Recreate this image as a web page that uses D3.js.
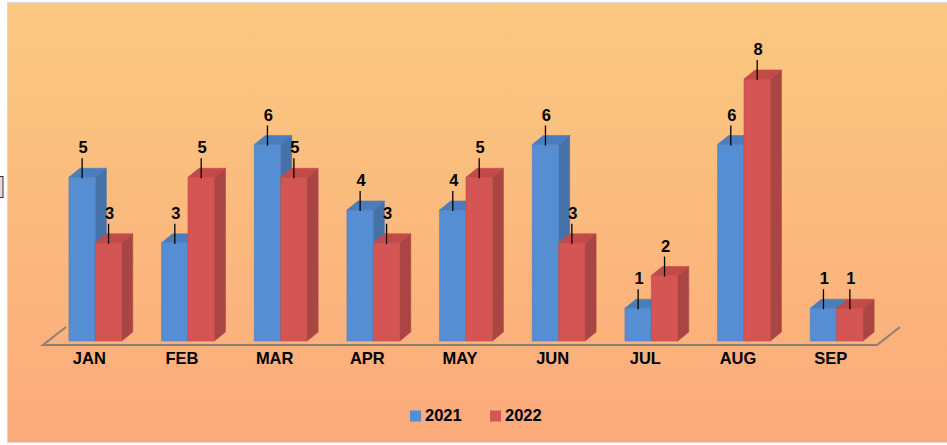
<!DOCTYPE html>
<html><head><meta charset="utf-8">
<script src="https://cdn.jsdelivr.net/npm/d3@7"></script>
<style>html,body{margin:0;padding:0;background:#fff;overflow:hidden}</style>
</head><body>
<svg id="c" width="947" height="445"></svg>
<script>
const categories = ["JAN","FEB","MAR","APR","MAY","JUN","JUL","AUG","SEP"];
const series = ["2021","2022"];
const values2021 = [5,3,6,4,4,6,1,6,1];
const values2022 = [3,5,5,3,5,3,2,8,1];
const seriesValues = [values2021, values2022];

const colors = {
  "2021": {front:"#568ed3", top:"#4a7dbd", side:"#4672aa"},
  "2022": {front:"#d45553", top:"#c24b49", side:"#a94543"}
};

const svg = d3.select("#c");
const defs = svg.append("defs");
const g = defs.append("linearGradient").attr("id","bg").attr("x1",0).attr("y1",0).attr("x2",0).attr("y2",1);
g.append("stop").attr("offset","0%").attr("stop-color","#fac980");
g.append("stop").attr("offset","100%").attr("stop-color","#fcaa7b");

svg.append("rect").attr("x",7.5).attr("y",2.5).attr("width",945).attr("height",440)
  .attr("fill","url(#bg)").attr("stroke","#d9d9d9").attr("stroke-width",1);
svg.append("rect").attr("x",-8).attr("y",176.5).attr("width",11).attr("height",21)
  .attr("fill","#ead6dc").attr("stroke","#333").attr("stroke-width",1);

// floor
const floorY = 345, floorDX = 23, floorDY = -18;
const x = d3.scaleBand().domain(categories).range([43,877]).paddingInner(0.43).paddingOuter(0.215);
const xs = d3.scaleBand().domain(series).range([0, x.bandwidth()]);
const barOff = {dx:6, dy:-4};
const depth = {dx:11, dy:-9};
const y = d3.scaleLinear().domain([0,8]).range([floorY + barOff.dy, 79]);

const floor = svg.append("g").attr("stroke","#8a8078").attr("stroke-width",2).attr("fill","none");
floor.append("path").attr("d",`M${x.range()[0]+floorDX},${floorY+floorDY}L${x.range()[0]},${floorY}L${x.range()[1]},${floorY}L${x.range()[1]+floorDX},${floorY+floorDY}`);

const bars = svg.append("g");
const labels = svg.append("g");
categories.forEach((c,i)=>{
  series.forEach((s,j)=>{
    const v = seriesValues[j][i];
    const x0 = x(c) + xs(s) + barOff.dx, x1 = x0 + xs.bandwidth();
    const yb = y(0), yt = y(v);
    const col = colors[s];
    const gb = bars.append("g").attr("stroke-width",0.6).attr("stroke-linejoin","round");
    // side
    gb.append("path").attr("d",`M${x1},${yb}L${x1+depth.dx},${yb+depth.dy}L${x1+depth.dx},${yt+depth.dy}L${x1},${yt}Z`)
      .attr("fill",col.side).attr("stroke",col.side);
    // top
    gb.append("path").attr("d",`M${x0},${yt}L${x0+depth.dx},${yt+depth.dy}L${x1+depth.dx},${yt+depth.dy}L${x1},${yt}Z`)
      .attr("fill",col.top).attr("stroke",col.top);
    // front
    gb.append("rect").attr("x",x0).attr("y",yt).attr("width",x1-x0).attr("height",yb-yt)
      .attr("fill",col.front).attr("stroke",d3.color(col.front).darker(0.3));
    const cx = (x0+x1)/2;
    labels.append("line").attr("x1",cx).attr("x2",cx).attr("y1",yt+1).attr("y2",yt-19)
      .attr("stroke","#000").attr("stroke-width",1.3);
    labels.append("text").attr("x",cx+1).attr("y",yt-24).attr("text-anchor","middle")
      .attr("font-family","Liberation Sans, Arial, sans-serif").attr("font-weight","bold")
      .attr("font-size","16.5px").attr("fill","#000").text(v);
  });
});

// category axis labels
svg.append("g").selectAll("text").data(categories).join("text")
  .attr("x",d=>x(d)+x.bandwidth()/2).attr("y",364).attr("text-anchor","middle")
  .attr("font-family","Liberation Sans, Arial, sans-serif").attr("font-weight","bold")
  .attr("font-size","16.5px").attr("fill","#000").text(d=>d);

// legend
const leg = svg.append("g");
const legX = [410, 490];
series.forEach((s,j)=>{
  leg.append("rect").attr("x",legX[j]).attr("y",410.5).attr("width",11).attr("height",11).attr("fill",colors[s].front);
  leg.append("text").attr("x",legX[j]+15).attr("y",421)
    .attr("font-family","Liberation Sans, Arial, sans-serif").attr("font-weight","bold")
    .attr("font-size","16.5px").attr("fill","#000").text(s);
});
</script>
</body></html>
